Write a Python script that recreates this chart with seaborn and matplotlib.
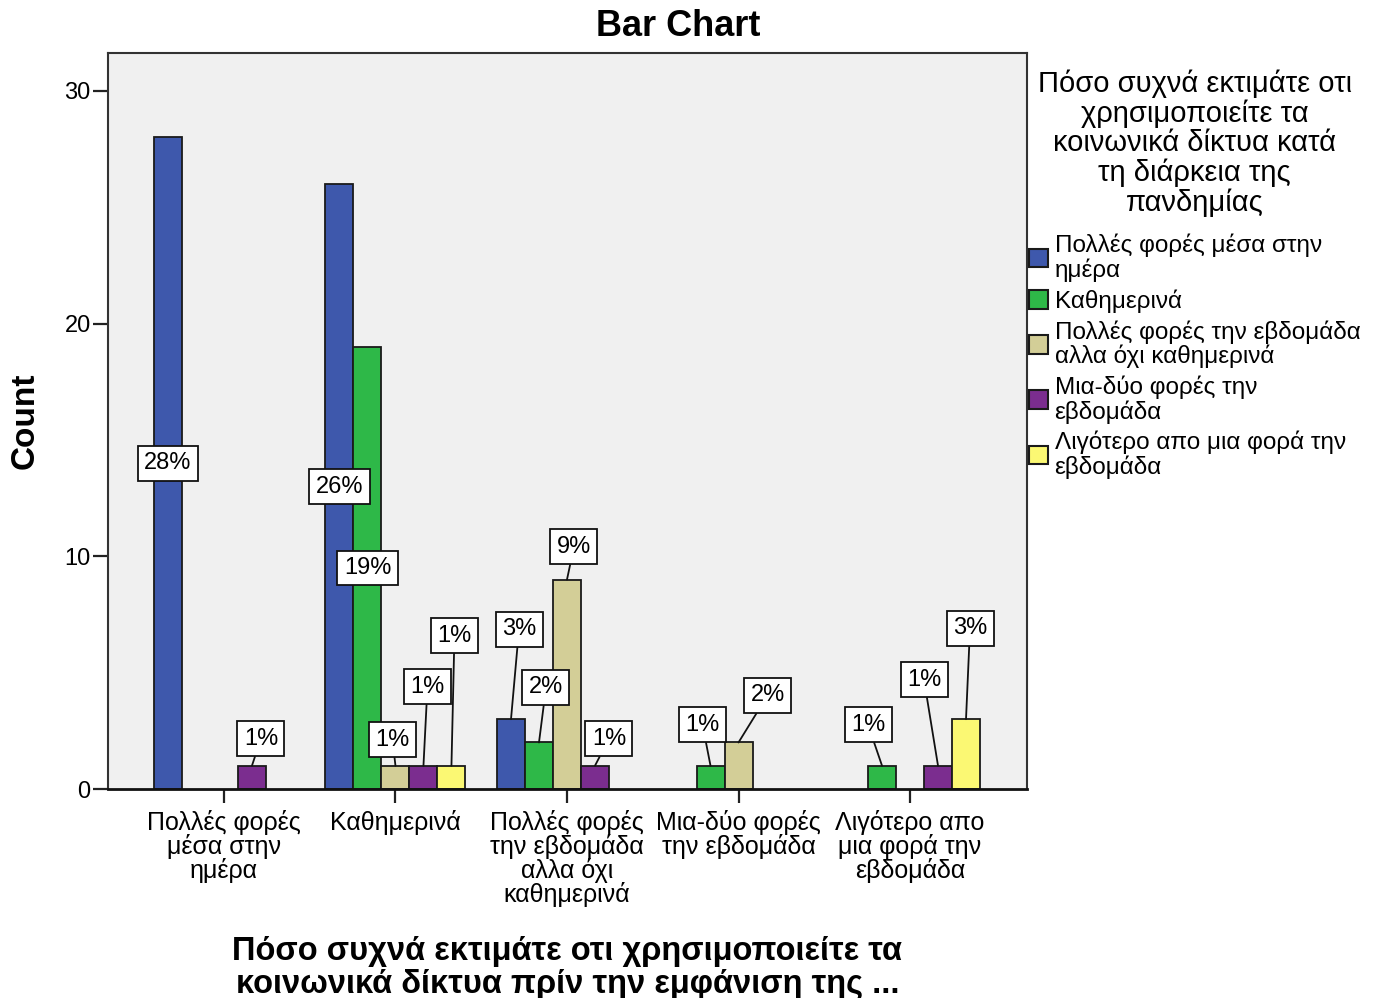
import matplotlib
matplotlib.use("Agg")
import matplotlib.pyplot as plt
import seaborn as sns
import pandas as pd

# answer categories (x axis = before the pandemic, hue = during the pandemic)
answers = [
    "Πολλές φορές μέσα στην ημέρα",
    "Καθημερινά",
    "Πολλές φορές την εβδομάδα αλλα όχι καθημερινά",
    "Μια-δύο φορές την εβδομάδα",
    "Λιγότερο απο μια φορά την εβδομάδα",
]
tick_labels = [
    "Πολλές φορές\nμέσα στην\nημέρα",
    "Καθημερινά",
    "Πολλές φορές\nτην εβδομάδα\nαλλα όχι\nκαθημερινά",
    "Μια-δύο φορές\nτην εβδομάδα",
    "Λιγότερο απο\nμια φορά την\nεβδομάδα",
]
legend_labels = [
    "Πολλές φορές μέσα στην\nημέρα",
    "Καθημερινά",
    "Πολλές φορές την εβδομάδα\nαλλα όχι καθημερινά",
    "Μια-δύο φορές την\nεβδομάδα",
    "Λιγότερο απο μια φορά την\nεβδομάδα",
]
legend_title = ("Πόσο συχνά εκτιμάτε οτι\nχρησιμοποιείτε τα\nκοινωνικά δίκτυα κατά\n"
                "τη διάρκεια της\nπανδημίας")
x_title = ("Πόσο συχνά εκτιμάτε οτι χρησιμοποιείτε τα\n"
           "κοινωνικά δίκτυα πρίν την εμφάνιση της ...")

# counts for each hue level, one value per x category
counts_many_daily = [28, 26, 3, 0, 0]
counts_daily = [0, 19, 2, 1, 1]
counts_many_weekly = [0, 1, 9, 2, 0]
counts_once_twice = [1, 1, 1, 0, 1]
counts_less = [0, 1, 0, 0, 3]

series = [counts_many_daily, counts_daily, counts_many_weekly,
          counts_once_twice, counts_less]
palette = ["#3E58AC", "#2EB848", "#D3CE97", "#7B2D8F", "#FBF873"]

rows = []
for during, vals in zip(answers, series):
    for before, v in zip(answers, vals):
        if v > 0:
            rows.append({"before": before, "during": during, "count": v})
df = pd.DataFrame(rows)
total = df["count"].sum()

# label box offsets in pixels from the bar top, keyed by (x group, hue level);
# None means the label sits in the middle of the bar
label_offsets = {
    (0, 0): None, (0, 3): (9, 27),
    (1, 0): None, (1, 1): None, (1, 2): (-3, 26), (1, 3): (4, 79), (1, 4): (3, 130),
    (2, 0): (8, 90), (2, 1): (7, 55), (2, 2): (7, 33), (2, 3): (14, 27),
    (3, 1): (-8, 41), (3, 2): (29, 47),
    (4, 1): (-14, 41), (4, 3): (-14, 86), (4, 4): (4, 91),
}

sns.set_theme(style="white")
plt.rcParams["font.family"] = ["Liberation Sans", "DejaVu Sans"]
plt.rcParams.update({"text.color": "black", "axes.labelcolor": "black",
                     "xtick.color": "black", "ytick.color": "black"})

W, H = 1378, 998
fig = plt.figure(figsize=(W / 100, H / 100), dpi=100)
ax = fig.add_axes([108 / W, 1 - 789 / H, (1027 - 108) / W, (789 - 53) / H])
ax.set_facecolor("#F0F0F0")

bar_width = 0.816
sns.barplot(data=df, x="before", y="count", hue="during", order=answers,
            hue_order=answers, palette=palette, saturation=1, width=bar_width,
            gap=0, edgecolor="#1a1a1a", linewidth=1.3, ax=ax)

ax.set_xlim(-0.676, 4.682)
ax.set_ylim(0, 31.63)
ax.set_yticks([0, 10, 20, 30])
ax.set_xticks(range(len(answers)))
ax.set_xticklabels(tick_labels, fontsize=18, linespacing=0.95)
for t in ax.get_yticklabels():
    t.set_fontsize(17)
ax.tick_params(axis="y", left=True, length=11, width=1.6, pad=1.5, color="#222222")
ax.tick_params(axis="x", bottom=True, length=10, width=1.6, pad=5, color="#222222")
for sp in ax.spines.values():
    sp.set_visible(True)
    sp.set_color("#333333")
    sp.set_linewidth(1.5)
ax.spines["bottom"].set_color("#111111")
ax.spines["bottom"].set_linewidth(2)

ax.set_xlabel(x_title, fontsize=23.5, fontweight="bold", linespacing=1.08)
ax.xaxis.set_label_coords(0.5, -0.2)
ax.xaxis.label.set_verticalalignment("top")
ax.set_ylabel("Count", fontsize=24, fontweight="bold")
ax.yaxis.set_label_coords(-0.073, 0.5)

box = dict(boxstyle="square,pad=0.27", fc="white", ec="#111111", lw=1.3)
step = bar_width / len(answers)
for bar in ax.patches:
    h = bar.get_height()
    if h <= 0:
        continue
    xc = bar.get_x() + bar.get_width() / 2
    grp = int(round(xc))
    lvl = int(round((xc - grp) / step)) + 2
    text = f"{h / total * 100:.0f}%"
    off = label_offsets.get((grp, lvl))
    if off is None:
        ax.text(xc, h / 2, text, ha="center", va="center", fontsize=17,
                bbox=box, zorder=5)
    else:
        ax.annotate(text, xy=(xc, h), xytext=off, textcoords="offset pixels",
                    ha="center", va="center", fontsize=17, bbox=box, zorder=5,
                    arrowprops=dict(arrowstyle="-", color="#111111", lw=1.3,
                                    shrinkA=0, shrinkB=0))

handles = ax.get_legend().legend_handles
leg = ax.legend(handles, legend_labels, title=legend_title, loc="upper left",
                bbox_to_anchor=(1029 / W, 1 - 69 / H), bbox_transform=fig.transFigure,
                frameon=False, fontsize=17.5, title_fontsize=21,
                handlelength=0.8, handleheight=0.8, handletextpad=0.25,
                labelspacing=0.3, borderpad=0, borderaxespad=0)
leg.get_title().set_linespacing(1.07)
leg.get_title().set_multialignment("center")
leg._legend_box.sep = 12
for t in leg.get_texts():
    t.set_linespacing(1.06)
for hd in leg.legend_handles:
    hd.set_edgecolor("#1a1a1a")
    hd.set_linewidth(1.5)

fig.text(678 / W, 1 - 26 / H, "Bar Chart", ha="center", va="center",
         fontsize=26, fontweight="bold")

fig.savefig("out.png", dpi=100, facecolor="white")
